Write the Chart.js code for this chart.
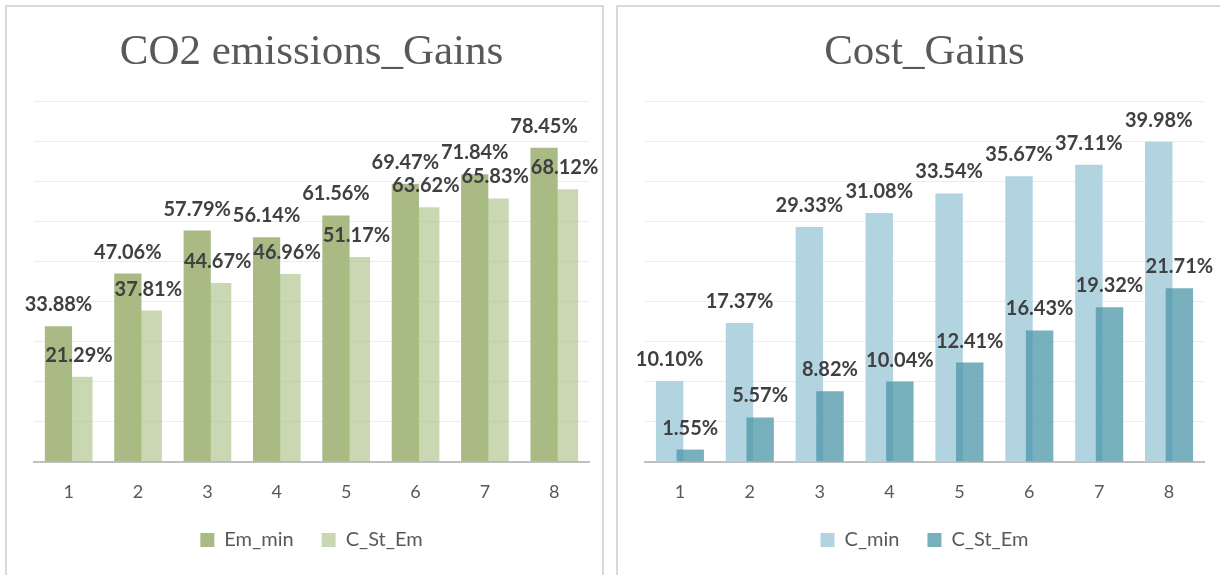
<!DOCTYPE html>
<html><head><meta charset="utf-8">
<script src="https://cdn.jsdelivr.net/npm/chart.js@4.4.0/dist/chart.umd.min.js"></script>
<style>
html,body{margin:0;padding:0;background:#fff}
body{width:1220px;height:575px;overflow:hidden;position:relative}
.panel{position:absolute;top:5px;height:620px;border:2px solid #d9d9d9;box-sizing:border-box;background:#fff}
#p1{left:5px;width:599px}
#p2{left:616px;width:640px}
canvas{position:absolute;left:0;top:0}
</style></head><body>
<div class="panel" id="p1"><canvas id="c1" width="595" height="568"></canvas></div>
<div class="panel" id="p2"><canvas id="c2" width="602" height="568"></canvas></div>
<script>
const categories = ['1','2','3','4','5','6','7','8'];
const emMin   = [33.88, 47.06, 57.79, 56.14, 61.56, 69.47, 71.84, 78.45];
const emCStEm = [21.29, 37.81, 44.67, 46.96, 51.17, 63.62, 65.83, 68.12];
const costMin   = [10.10, 17.37, 29.33, 31.08, 33.54, 35.67, 37.11, 39.98];
const costCStEm = [1.55, 5.57, 8.82, 10.04, 12.41, 16.43, 19.32, 21.71];

// draw second dataset on top of the first (like the overlapped Excel bars)
const frontSecond = {
  id: 'frontSecond',
  beforeDatasetDraw(chart, args) {
    if (args.index === 1 && !chart.$drawingFront) return false;
  },
  afterDatasetsDraw(chart) {
    const meta = chart.getDatasetMeta(1);
    chart.$drawingFront = true;
    meta.controller.draw();
    chart.$drawingFront = false;
  }
};

const valueLabels = {
  id: 'valueLabels',
  afterDatasetsDraw(chart) {
    const ctx = chart.ctx;
    ctx.save();
    ctx.font = 'bold 20px Lato';
    ctx.fillStyle = '#404040';
    ctx.textAlign = 'center';
    ctx.textBaseline = 'alphabetic';
    chart.data.datasets.forEach((ds, i) => {
      chart.getDatasetMeta(i).data.forEach((bar, j) => {
        ctx.fillText(ds.data[j].toFixed(2) + '%', bar.x, bar.y - 15);
      });
    });
    ctx.restore();
  }
};

function makeChart(id, title, s1, s2, ymax, step, padL, padR) {
  return new Chart(document.getElementById(id), {
    type: 'bar',
    data: {
      labels: categories,
      datasets: [
        { label: s1.label, data: s1.data, backgroundColor: s1.color,
          categoryPercentage: 0.59, barPercentage: 1.33 },
        { label: s2.label, data: s2.data, backgroundColor: s2.color,
          categoryPercentage: 0.59, barPercentage: 1.33 }
      ]
    },
    options: {
      responsive: false,
      animation: false,
      layout: { padding: { left: padL, right: padR, top: 0, bottom: 15 } },
      plugins: {
        title: {
          display: true, text: title, color: '#595959',
          font: { family: 'Liberation Serif', size: 43, weight: 'normal' },
          padding: { top: 20, bottom: 23 }
        },
        legend: {
          position: 'bottom',
          labels: {
            boxWidth: 14, boxHeight: 14, padding: 28, color: '#595959',
            font: { family: 'Lato', size: 20 }
          }
        },
        tooltip: { enabled: false }
      },
      scales: {
        x: {
          grid: { display: false, drawTicks: false },
          border: { display: true, color: '#bfbfbf', width: 2 },
          ticks: { color: '#595959', font: { family: 'Lato', size: 18 }, padding: 19 },
          afterFit(scale) { scale.height = 40; }
        },
        y: {
          min: 0, max: ymax,
          ticks: { display: false, stepSize: step },
          grid: { color: '#ededed', lineWidth: 1, drawTicks: false },
          border: { display: false }
        }
      }
    },
    plugins: [frontSecond, valueLabels]
  });
}

function build() {
  makeChart('c1', 'CO2 emissions_Gains',
    { label: 'Em_min', data: emMin, color: '#a9ba85' },
    { label: 'C_St_Em', data: emCStEm, color: 'rgba(165,190,127,0.6)' },
    90, 10, 27, 13);
  makeChart('c2', 'Cost_Gains',
    { label: 'C_min', data: costMin, color: '#b2d3e0' },
    { label: 'C_St_Em', data: costCStEm, color: 'rgba(75,150,168,0.75)' },
    45, 5, 27, 16);
}
if (document.fonts && document.fonts.load) {
  Promise.all([document.fonts.load('bold 20px Lato'), document.fonts.load('20px Lato'),
               document.fonts.load('43px "Liberation Serif"')]).then(build, build);
} else build();
</script>
</body></html>
